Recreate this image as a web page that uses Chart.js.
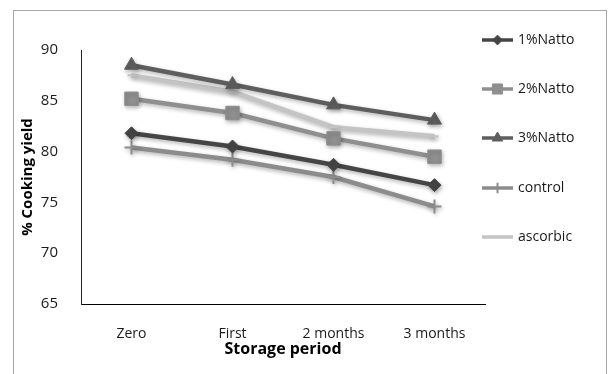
<!DOCTYPE html>
<html>
<head>
<meta charset="utf-8">
<script src="https://cdn.jsdelivr.net/npm/chart.js@4/dist/chart.umd.min.js"></script>
<style>
  html, body { margin: 0; padding: 0; background: #fff; }
  #wrap { width: 609px; height: 374px; }
</style>
</head>
<body>
<div id="wrap"><canvas id="yieldChart"></canvas></div>
<script>
const periods = ['Zero', 'First', '2 months', '3 months'];
const natto1 = [81.8, 80.5, 78.7, 76.7];
const natto2 = [85.2, 83.8, 81.3, 79.5];
const natto3 = [88.5, 86.6, 84.6, 83.1];
const control = [80.4, 79.2, 77.5, 74.6];
const ascorbic = [87.5, 85.9, 82.4, 81.5];

const seriesNames = ['1%Natto', '2%Natto', '3%Natto', 'control', 'ascorbic'];

// border round the whole figure
const frame = {
    id: 'frame',
    beforeDraw(chart) {
        const ctx = chart.ctx;
        ctx.save();
        ctx.fillStyle = '#fff';
        ctx.fillRect(0, 0, chart.width, chart.height);
        ctx.strokeStyle = '#a6a6a6';
        ctx.lineWidth = 1;
        ctx.strokeRect(13.5, 10.5, 593, 380);
        ctx.restore();
    }
};

// soft shadow under the lines, like the office chart
const shadow = {
    id: 'shadow',
    beforeDatasetsDraw(chart) {
        const ctx = chart.ctx;
        ctx.save();
        ctx.shadowColor = 'rgba(0,0,0,0.3)';
        ctx.shadowBlur = 4;
        ctx.shadowOffsetX = 1;
        ctx.shadowOffsetY = 2;
    },
    afterDatasetsDraw(chart) {
        chart.ctx.restore();
    }
};

// legend: line + marker, then the name
const sideLegend = {
    id: 'sideLegend',
    afterDraw(chart) {
        const ctx = chart.ctx;
        const x0 = 482, x1 = 513, textX = 518;
        const rows = [40, 89, 138, 188, 237];
        ctx.save();
        chart.data.datasets.forEach(function (ds, i) {
            const y = rows[i];
            ctx.strokeStyle = ds.borderColor;
            ctx.lineWidth = 3.5;
            ctx.beginPath();
            ctx.moveTo(x0, y);
            ctx.lineTo(x1, y);
            ctx.stroke();
            if (ds.pointStyle && ds.pointStyle !== 'line') {
                ctx.fillStyle = ds.pointBackgroundColor;
                ctx.strokeStyle = ds.pointBorderColor;
                ctx.lineWidth = ds.pointBorderWidth;
                Chart.helpers.drawPoint(ctx, {
                    pointStyle: ds.pointStyle,
                    radius: ds.pointRadius * 0.75,
                    rotation: 0,
                    borderWidth: ds.pointBorderWidth
                }, (x0 + x1) / 2, y);
            }
            ctx.fillStyle = '#1a1a1a';
            ctx.font = '14px "Open Sans"';
            ctx.textAlign = 'left';
            ctx.textBaseline = 'middle';
            ctx.fillText(ds.label, textX, y);
        });
        ctx.restore();
    }
};

function series(name, values, color, style, radius, border) {
    return {
        label: name,
        data: values,
        borderColor: color,
        backgroundColor: color,
        borderWidth: 4.5,
        pointStyle: style,
        pointRadius: radius,
        pointHoverRadius: radius,
        pointBackgroundColor: color,
        pointBorderColor: color,
        pointBorderWidth: border,
        tension: 0
    };
}

const ctx = document.getElementById('yieldChart').getContext('2d');

new Chart(ctx, {
    type: 'line',
    data: {
        labels: periods,
        datasets: [
            series(seriesNames[0], natto1, '#454545', 'rectRot', 6.5, 1),
            series(seriesNames[1], natto2, '#8f8f8f', 'rect', 9.5, 1),
            series(seriesNames[2], natto3, '#5e5e5e', 'triangle', 8, 1),
            series(seriesNames[3], control, '#8c8c8c', 'cross', 7, 2),
            series(seriesNames[4], ascorbic, '#c4c4c4', 'line', 4, 2)
        ]
    },
    options: {
        responsive: true,
        maintainAspectRatio: false,
        animation: false,
        layout: {
            padding: { top: 50, right: 124, bottom: 0, left: 0 }
        },
        scales: {
            x: {
                offset: true,
                grid: { display: false },
                border: { display: true, color: '#000', width: 1 },
                ticks: {
                    padding: 14,
                    color: '#1a1a1a',
                    font: { family: 'Open Sans', size: 14 }
                },
                title: {
                    display: true,
                    text: 'Storage period',
                    color: '#000',
                    font: { family: 'Open Sans', size: 16, weight: 'bold' },
                    padding: { top: 0, bottom: 15 }
                },
                afterFit: function (scale) { scale.height = 70; }
            },
            y: {
                min: 65,
                max: 90,
                grid: { display: false },
                border: { display: true, color: '#222', width: 1 },
                ticks: {
                    stepSize: 5,
                    padding: 15,
                    color: '#1a1a1a',
                    font: { family: 'Open Sans', size: 15 }
                },
                title: {
                    display: true,
                    text: '% Cooking yield',
                    color: '#000',
                    font: { family: 'Open Sans', size: 15, weight: 'bold' },
                    padding: { top: 19, bottom: 0 }
                },
                afterFit: function (scale) { scale.width = 81; }
            }
        },
        plugins: {
            legend: { display: false },
            tooltip: { enabled: false }
        }
    },
    plugins: [frame, shadow, sideLegend]
});
</script>
</body>
</html>
